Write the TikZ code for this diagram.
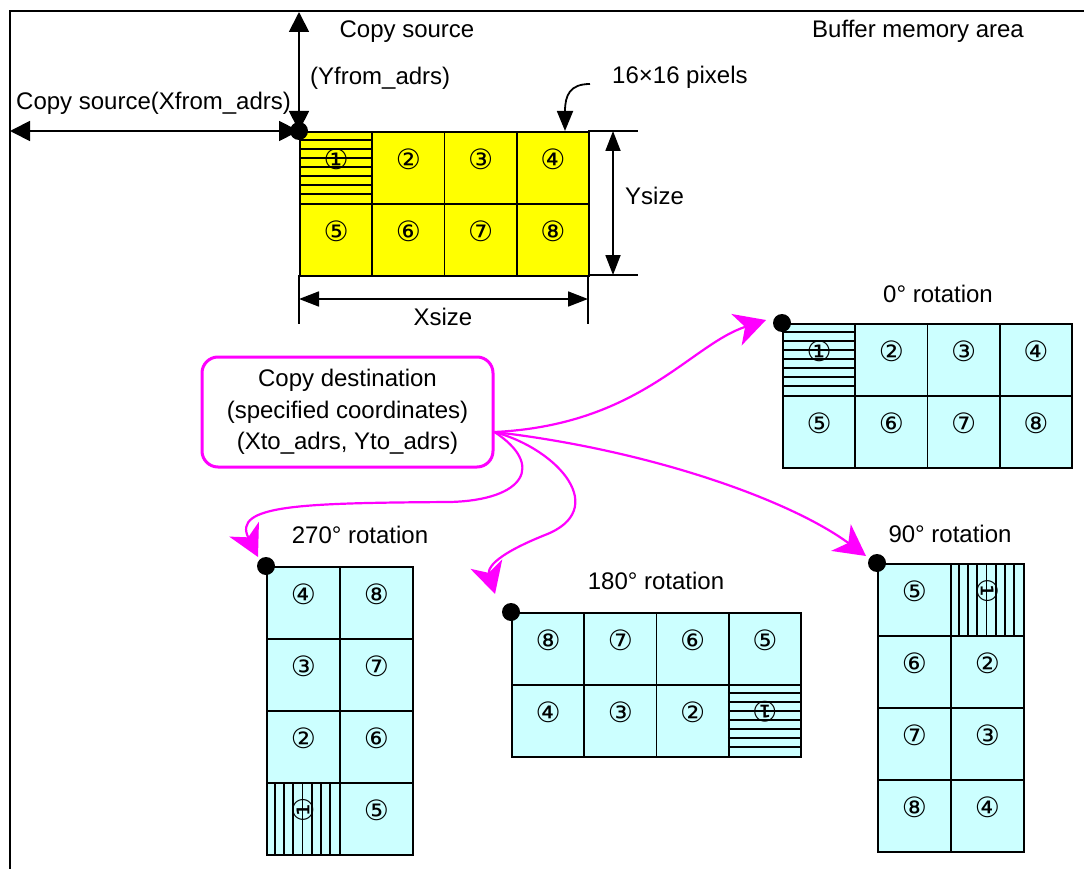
\documentclass[tikz,border=0pt]{standalone}
\usepackage{fontspec}
\setmainfont{Liberation Sans}
\newfontfamily\digitfont{DejaVu Sans}
\usetikzlibrary{arrows.meta}
\definecolor{srcyellow}{RGB}{255,255,0}
\definecolor{dstcyan}{RGB}{204,255,255}
\definecolor{mag}{RGB}{255,0,255}
\begin{document}
\begin{tikzpicture}[x=1pt,y=-1pt,
  txt/.style={font=\fontsize{24}{28}\selectfont, inner sep=0pt},
  cell/.style={draw=black, line width=1.9pt, inner sep=0pt, anchor=north west},
  lcell/.style={cell, minimum width=72.25pt, minimum height=72pt},
  pcell/.style={cell, minimum width=73pt, minimum height=72.1pt},
  digit/.style={font=\digitfont\fontsize{28}{32}\selectfont, inner sep=0pt},
  hatch/.style={line width=1.8pt},
  frame/.style={line width=1.8pt},
  dimbig/.style={line width=1.8pt, {Triangle[length=20pt,width=20pt]}-{Triangle[length=20pt,width=20pt]}},
  dimsmall/.style={line width=1.8pt, {Triangle[length=20pt,width=15pt]}-{Triangle[length=20pt,width=15pt]}},
  extline/.style={line width=1.8pt},
  callout/.style={line width=1.8pt, -{Triangle[length=20pt,width=16pt]}},
  conn/.style={draw=mag, line width=2.2pt, -{Stealth[length=31pt,width=33pt,inset=9pt]}},
  dot/.style={circle, fill=black, minimum size=18pt, inner sep=0pt},
  destbox/.style={draw=mag, line width=3pt, rounded corners=16pt, minimum width=291pt, minimum height=110pt, align=center, font=\fontsize{24}{31.5}\selectfont, inner sep=0pt}
]
\useasboundingbox (0,0) rectangle (1084,869);

% frame of the buffer memory area
\draw[frame] (1084,11) -- (10,11) -- (10,869);

% ---------- source grid ----------
\foreach \dg [count=\k from 0] in {①,②,③,④,⑤,⑥,⑦,⑧}{
  \pgfmathtruncatemacro\cc{mod(\k,4)}
  \pgfmathtruncatemacro\rr{\k/4}
  \node[lcell,fill=srcyellow] (s\k) at ({299+\cc*72.25},{131+\rr*72}) {};
  \node[digit] (sd\k) at ([yshift=9pt]s\k.center) {\dg};
}
\foreach \i in {1,...,7}{\draw[hatch] (299,{131+9*\i}) -- (371.25,{131+9*\i});}

% source address arrows
\coordinate (origin) at (299,131);
\coordinate (vtop) at (299,12);
\coordinate (hleft) at (10,131);
\draw[dimbig] (vtop) -- (origin);
\draw[dimbig] (hleft) -- (origin);
\node[dot] (sdot) at (origin) {};

\node[txt, anchor=base] (lcs) at (407,37.5) {Copy source};
\node[txt, anchor=base west] (lbuf) at (812,37.5) {Buffer memory area};
\node[txt, anchor=base west] (lyf) at (310,85) {(Yfrom\_adrs)};
\node[txt, anchor=base west] (lxf) at (16,110) {Copy source(Xfrom\_adrs)};
\node[txt, anchor=base west] (l16) at (612,84) {16×16 pixels};

% 16x16 callout
\coordinate (c16s) at (590,84);
\coordinate (c16t) at (565,131);
\draw[callout] (c16s) .. controls (570,84) and (565,95) .. (c16t);

% Ysize / Xsize dimensions
\coordinate (ye1) at (588,131); \coordinate (ye1e) at (638,131);
\coordinate (ye2) at (588,275); \coordinate (ye2e) at (638,275);
\draw[extline] (ye1) -- (ye1e);
\draw[extline] (ye2) -- (ye2e);
\coordinate (ya) at (613,131); \coordinate (yb) at (613,275);
\draw[dimsmall] (ya) -- (yb);
\node[txt, anchor=base west] (lys) at (625,205) {Ysize};

\coordinate (xe1) at (299,275); \coordinate (xe1e) at (299,324);
\coordinate (xe2) at (588,275); \coordinate (xe2e) at (588,324);
\draw[extline] (xe1) -- (xe1e);
\draw[extline] (xe2) -- (xe2e);
\coordinate (xa) at (299,299); \coordinate (xb) at (588,299);
\draw[dimsmall] (xa) -- (xb);
\node[txt, anchor=base] (lxs) at (443,325) {Xsize};

% ---------- 0 deg ----------
\foreach \dg [count=\k from 0] in {①,②,③,④,⑤,⑥,⑦,⑧}{
  \pgfmathtruncatemacro\cc{mod(\k,4)}
  \pgfmathtruncatemacro\rr{\k/4}
  \node[lcell,fill=dstcyan] (a\k) at ({782+\cc*72.25},{323+\rr*72}) {};
  \node[digit] (ad\k) at ([yshift=9pt]a\k.center) {\dg};
}
\foreach \i in {1,...,7}{\draw[hatch] (782,{323+9*\i}) -- (854.25,{323+9*\i});}
\node[dot] (d0) at (782,323) {};
\node[txt, anchor=base] (l0) at (938,302) {0° rotation};

% ---------- 90 deg ----------
\foreach \dg/\rot [count=\k from 0] in {⑤/0,①/-90,⑥/0,②/0,⑦/0,③/0,⑧/0,④/0}{
  \pgfmathtruncatemacro\cc{mod(\k,2)}
  \pgfmathtruncatemacro\rr{\k/2}
  \node[pcell,fill=dstcyan] (b\k) at ({877+\cc*73},{563+\rr*72.1}) {};
  \node[digit, rotate=\rot] (bd\k) at ([yshift=9pt]b\k.center) {\dg};
}
\foreach \i in {1,...,7}{\draw[hatch] ({950+9.125*\i},563) -- ({950+9.125*\i},635.1);}
\node[dot] (d90) at (877,563) {};
\node[txt, anchor=base] (l90) at (950,542) {90° rotation};

% ---------- 180 deg ----------
\foreach \dg/\rot [count=\k from 0] in {⑧/0,⑦/0,⑥/0,⑤/0,④/0,③/0,②/0,①/180}{
  \pgfmathtruncatemacro\cc{mod(\k,4)}
  \pgfmathtruncatemacro\rr{\k/4}
  \node[lcell,fill=dstcyan] (c\k) at ({511+\cc*72.25},{612+\rr*72}) {};
  \node[digit, rotate=\rot] (cd\k) at ([yshift=9pt]c\k.center) {\dg};
}
\foreach \i in {1,...,7}{\draw[hatch] (727.75,{684+9*\i}) -- (800,{684+9*\i});}
\node[dot] (d180) at (511,612) {};
\node[txt, anchor=base] (l180) at (656,589) {180° rotation};

% ---------- 270 deg ----------
\foreach \dg/\rot [count=\k from 0] in {④/0,⑧/0,③/0,⑦/0,②/0,⑥/0,①/90,⑤/0}{
  \pgfmathtruncatemacro\cc{mod(\k,2)}
  \pgfmathtruncatemacro\rr{\k/2}
  \node[pcell,fill=dstcyan] (e\k) at ({266+\cc*73},{566+\rr*72.1}) {};
  \node[digit, rotate=\rot] (ed\k) at ([yshift=9pt]e\k.center) {\dg};
}
\foreach \i in {1,...,7}{\draw[hatch] ({266+9.125*\i},782.3) -- ({266+9.125*\i},854.4);}
\node[dot] (d270) at (266,566) {};
\node[txt, anchor=base] (l270) at (360,543) {270° rotation};

% ---------- copy destination ----------
\node[destbox] (dest) at (347.5,412) {Copy destination\\(specified coordinates)\\(Xto\_adrs, Yto\_adrs)};
\coordinate (src) at ([yshift=-20pt]dest.east);
\coordinate (t0) at (766,320);
\coordinate (t90) at (866,556);
\coordinate (t180) at (495,594);
\coordinate (t270) at (258,557);
\draw[conn] (src) .. controls (640,425) and (690,345) .. (t0);
\draw[conn] (src) .. controls (650,450) and (790,500) .. (t90);
\draw[conn] (src) .. controls (560,450) and (610,510) .. (545,535) .. controls (490,557) and (488,570) .. (t180);
\draw[conn] (src) .. controls (545,465) and (525,500) .. (450,502) .. controls (300,503) and (232,505) .. (t270);
\end{tikzpicture}
\end{document}
